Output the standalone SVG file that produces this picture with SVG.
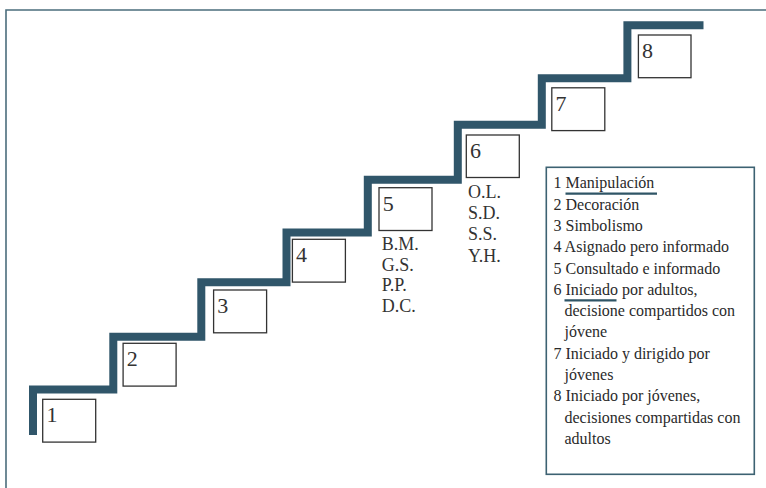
<svg xmlns="http://www.w3.org/2000/svg" width="766" height="488" viewBox="0 0 766 488">
<style>
.frame{fill:none;stroke:#4b6d7c;stroke-width:1.6}
.stair{fill:none;stroke:#30566a;stroke-width:8;stroke-linejoin:miter;stroke-linecap:butt}
.box{fill:#fff;stroke:#333;stroke-width:1.3}
.num{font-family:"Liberation Serif","Times New Roman",serif;font-size:22px;fill:#333}
.ini{font-family:"Liberation Serif","Times New Roman",serif;font-size:18px;fill:#333}
.leg{fill:#fff;stroke:#3d6272;stroke-width:1.6}
.lt{font-family:"Liberation Serif","Times New Roman",serif;font-size:16px;fill:#2a2a2a}
.ul{stroke:#2f5566;stroke-width:2.2}
</style>
<rect width="766" height="488" fill="#fff"/>
<path class="frame" d="M6,488 V10 H766"/>
<g id="connectors">
<path class="stair" d="M33,435 V389.5 H113.3 V336.7 H201.3 V282.3 H286.5 V232.6 H367.8 V179.8 H457.8 V124.8 H541.8 V78.2 H627.4 V25.3 H703.5"/>
</g>
<g id="step1"><rect class="box" x="42.7" y="399.3" width="53" height="42.8"/><text class="num" x="46.5" y="422">1</text></g>
<g id="step2"><rect class="box" x="123.1" y="343.3" width="53" height="42.8"/><text class="num" x="126.8" y="366">2</text></g>
<g id="step3"><rect class="box" x="213.6" y="290" width="53" height="42.8"/><text class="num" x="217.3" y="312.7">3</text></g>
<g id="step4"><rect class="box" x="292.4" y="239.3" width="53" height="42.8"/><text class="num" x="296.1" y="262">4</text></g>
<g id="step5"><rect class="box" x="379" y="187.7" width="53" height="42.8"/><text class="num" x="382.7" y="210.5">5</text></g>
<g id="step6"><rect class="box" x="466.3" y="135" width="53" height="42.5"/><text class="num" x="470" y="157.7">6</text></g>
<g id="step7"><rect class="box" x="551.8" y="87.8" width="53" height="42.8"/><text class="num" x="555.5" y="110.5">7</text></g>
<g id="step8"><rect class="box" x="638.4" y="35" width="52.6" height="42.7"/><text class="num" x="642" y="57.7">8</text></g>
<g id="initials5">
<text class="ini" x="381.7" y="250">B.M.</text>
<text class="ini" x="381.7" y="270.7">G.S.</text>
<text class="ini" x="381.7" y="291.3">P.P.</text>
<text class="ini" x="381.7" y="312">D.C.</text>
</g>
<g id="initials6">
<text class="ini" x="468" y="197.5">O.L.</text>
<text class="ini" x="468" y="218.8">S.D.</text>
<text class="ini" x="468" y="240">S.S.</text>
<text class="ini" x="468" y="261.5">Y.H.</text>
</g>
<g id="legend">
<rect class="leg" x="546.3" y="167.3" width="208" height="307"/>
<text class="lt" x="553.5" y="188.3">1 Manipulación</text>
<line class="ul" x1="565.5" y1="193.7" x2="657" y2="193.7"/>
<text class="lt" x="553.5" y="209.6">2 Decoración</text>
<text class="lt" x="553.5" y="230.9">3 Simbolismo</text>
<text class="lt" x="553.5" y="252.2">4 Asignado pero informado</text>
<text class="lt" x="553.5" y="273.5">5 Consultado e informado</text>
<text class="lt" x="553.5" y="294.8">6 Iniciado por adultos,</text>
<line class="ul" x1="564.5" y1="300.3" x2="616.5" y2="300.3"/>
<text class="lt" x="564.5" y="316.1">decisione compartidos con</text>
<text class="lt" x="564.5" y="337.4">jóvene</text>
<text class="lt" x="553.5" y="358.7">7 Iniciado y dirigido por</text>
<text class="lt" x="564.5" y="380">jóvenes</text>
<text class="lt" x="553.5" y="401.3">8 Iniciado por jóvenes,</text>
<text class="lt" x="564.5" y="422.6">decisiones compartidas con</text>
<text class="lt" x="564.5" y="443.9">adultos</text>
</g>
</svg>
